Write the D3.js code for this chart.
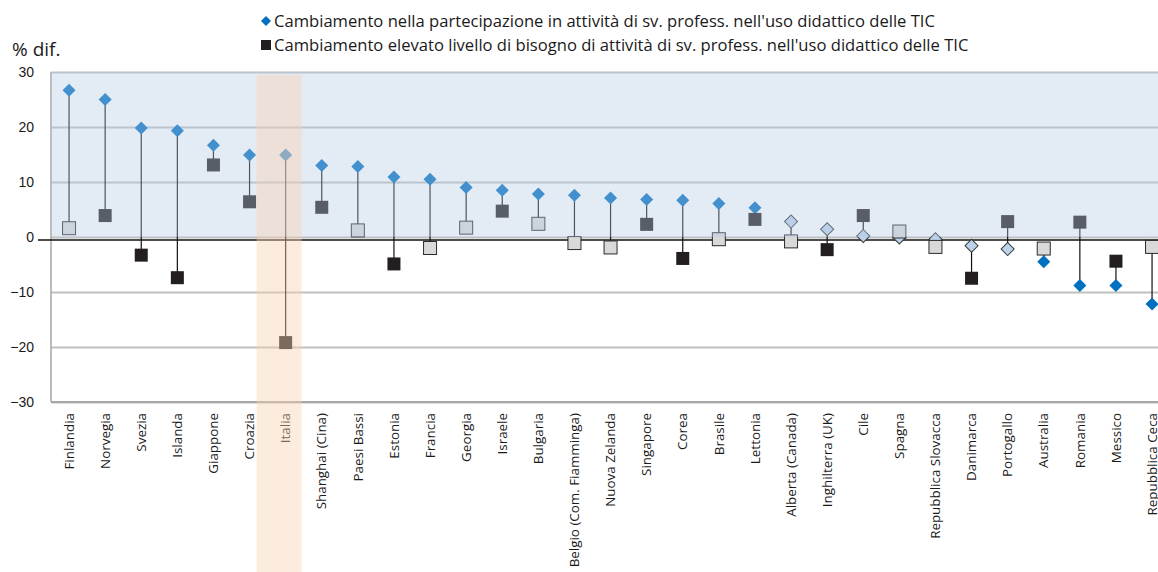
<!DOCTYPE html>
<html>
<head>
<meta charset="utf-8">
<script src="https://cdn.jsdelivr.net/npm/d3@7"></script>
<style>
  body { margin: 0; background: #fff; }
  svg { display: block; font-family: "Open Sans", Lato, sans-serif; }
</style>
</head>
<body>
<div id="chart"></div>
<script>
// Data
const categories = ["Finlandia", "Norvegia", "Svezia", "Islanda", "Giappone", "Croazia", "Italia",
  "Shanghai (Cina)", "Paesi Bassi", "Estonia", "Francia", "Georgia", "Israele", "Bulgaria",
  "Belgio (Com. Fiamminga)", "Nuova Zelanda", "Singapore", "Corea", "Brasile", "Lettonia",
  "Alberta (Canada)", "Inghilterra (UK)", "Cile", "Spagna", "Repubblica Slovacca", "Danimarca",
  "Portogallo", "Australia", "Romania", "Messico", "Repubblica Ceca"]

// change in participation (diamonds)
const participation = [26.7, 25.0, 19.8, 19.3, 16.7, 14.9, 14.9, 13.0, 12.8, 10.9, 10.5, 9.0, 8.5, 7.8,
  7.6, 7.1, 6.8, 6.7, 6.1, 5.3, 2.8, 1.4, 0.2, -0.1, -0.4, -1.6, -2.2, -4.5, -8.8, -8.8, -12.2]
const participationSig = [1, 1, 1, 1, 1, 1, 1, 1, 1, 1, 1, 1, 1, 1, 1, 1, 1, 1, 1, 1,
  0, 0, 0, 0, 0, 0, 0, 1, 1, 1, 1]

// change in high level of need (squares)
const needHigh = [1.6, 3.9, -3.3, -7.4, 13.1, 6.4, -19.2, 5.4, 1.2, -4.9, -2.0, 1.7, 4.7, 2.4,
  -1.1, -1.9, 2.3, -3.9, -0.4, 3.2, -0.8, -2.3, 3.9, 1.0, -1.8, -7.5, 2.8, -2.1, 2.7, -4.4, -1.8]
const needSig = [0, 1, 1, 1, 1, 1, 1, 1, 0, 1, 0, 0, 1, 0, 0, 0, 1, 1, 0, 1,
  0, 1, 1, 0, 0, 1, 1, 0, 1, 1, 0]

const yTicks = [-30, -20, -10, 0, 10, 20, 30]
const highlighted = "Italia"
const legendLabels = [
  "Cambiamento nella partecipazione in attività di sv. profess. nell'uso didattico delle TIC",
  "Cambiamento elevato livello di bisogno di attività di sv. profess. nell'uso didattico delle TIC"
]
const yTitle = "% dif."

// Layout
const dimensions = {
  width: 1158,
  height: 572,
  margin: { top: 72, left: 51 },
  plotHeight: 330,
  step: 36.1,
}

const dataset = categories.map((c, i) => ({
  name: c,
  part: participation[i],
  partSig: participationSig[i],
  need: needHigh[i],
  needSig: needSig[i],
}))

const svg = d3.select("#chart").append("svg")
  .attr("width", dimensions.width)
  .attr("height", dimensions.height)

// Scales
const xScale = d3.scaleBand()
  .domain(categories)
  .range([dimensions.margin.left, dimensions.margin.left + categories.length * dimensions.step])
const cx = d => xScale(d) + xScale.bandwidth() / 2

const yScale = d3.scaleLinear()
  .domain([-30, 30])
  .range([dimensions.margin.top + dimensions.plotHeight, dimensions.margin.top])

// Gridlines + y labels
const yAxis = svg.append("g")
  .attr("transform", `translate(${dimensions.margin.left},0)`)
  .call(d3.axisLeft(yScale)
    .tickValues(yTicks)
    .tickFormat(d3.format("d"))
    .tickSize(-(dimensions.width - dimensions.margin.left))
    .tickPadding(17))
yAxis.select(".domain").remove()
yAxis.selectAll(".tick line")
  .attr("stroke", "#c0c0c0")
  .attr("stroke-width", 2)
yAxis.selectAll(".tick text")
  .attr("fill", "#1a1a1a")
  .style("font-size", "14px")

// axis lines
svg.append("line")
  .attr("x1", dimensions.margin.left).attr("x2", dimensions.margin.left)
  .attr("y1", yScale(30)).attr("y2", yScale(-30))
  .attr("stroke", "#a6a6a6").attr("stroke-width", 1.5)
svg.append("line")
  .attr("x1", dimensions.margin.left).attr("x2", dimensions.width)
  .attr("y1", yScale(-30)).attr("y2", yScale(-30))
  .attr("stroke", "#a6a6a6").attr("stroke-width", 2)
svg.append("line")
  .attr("x1", dimensions.margin.left - 13).attr("x2", dimensions.width)
  .attr("y1", yScale(0) + 3).attr("y2", yScale(0) + 3)
  .attr("stroke", "#111").attr("stroke-width", 1.4)

// stems
svg.append("g").selectAll("line")
  .data(dataset)
  .join("line")
  .attr("x1", d => cx(d.name)).attr("x2", d => cx(d.name))
  .attr("y1", d => yScale(d.part)).attr("y2", d => yScale(d.need))
  .attr("stroke", "#111")
  .attr("stroke-width", 1.2)

// diamonds
const diamond = d3.symbol().type(d3.symbolSquare).size(85)
svg.append("g").selectAll("path")
  .data(dataset)
  .join("path")
  .attr("d", diamond)
  .attr("transform", d => `translate(${cx(d.name)},${yScale(d.part)}) rotate(45)`)
  .attr("fill", d => d.partSig ? "#0070c0" : "#bdd3ec")
  .attr("stroke", d => d.partSig ? "none" : "#3a3a3a")
  .attr("stroke-width", 1)

// squares
const squareSize = 13
svg.append("g").selectAll("rect")
  .data(dataset)
  .join("rect")
  .attr("x", d => cx(d.name) - squareSize / 2)
  .attr("y", d => yScale(d.need) - squareSize / 2)
  .attr("width", squareSize)
  .attr("height", squareSize)
  .attr("fill", d => d.needSig ? "#231f20" : "#d9d9d9")
  .attr("stroke", d => d.needSig ? "none" : "#2b2b2b")
  .attr("stroke-width", 1)

// x labels
svg.append("g").selectAll("text")
  .data(categories)
  .join("text")
  .attr("transform", d => `translate(${cx(d)},${yScale(-30) + 11}) rotate(-90)`)
  .attr("text-anchor", "end")
  .attr("dy", "0.35em")
  .attr("fill", "#1a1a1a")
  .style("font-size", "13.4px")
  .text(d => d)

// overlays: blue band above zero, peach band for the highlighted country
svg.append("rect")
  .attr("x", dimensions.margin.left)
  .attr("y", yScale(30))
  .attr("width", dimensions.width - dimensions.margin.left)
  .attr("height", yScale(0) - yScale(30))
  .attr("fill", "rgb(180,200,228)")
  .attr("fill-opacity", 0.37)

svg.append("rect")
  .attr("x", cx(highlighted) - 29)
  .attr("y", yScale(30) + 3)
  .attr("width", 45)
  .attr("height", dimensions.height - yScale(30) - 3)
  .attr("fill", "rgb(247,210,176)")
  .attr("fill-opacity", 0.42)

// titles & legend
svg.append("text")
  .attr("x", 12).attr("y", 56)
  .attr("fill", "#1a1a1a")
  .style("font-size", "19px")
  .text(yTitle)

const legend = svg.append("g").attr("transform", "translate(266,0)")
legend.append("path")
  .attr("d", d3.symbol().type(d3.symbolSquare).size(50))
  .attr("transform", "translate(0,21) rotate(45)")
  .attr("fill", "#0070c0")
legend.append("rect")
  .attr("x", -5).attr("y", 40).attr("width", 10).attr("height", 10)
  .attr("fill", "#231f20")
legend.selectAll("text")
  .data(legendLabels)
  .join("text")
  .attr("x", 8)
  .attr("y", (d, i) => 27 + i * 24)
  .attr("fill", "#1a1a1a")
  .style("font-size", "16.6px")
  .text(d => d)
</script>
</body>
</html>
